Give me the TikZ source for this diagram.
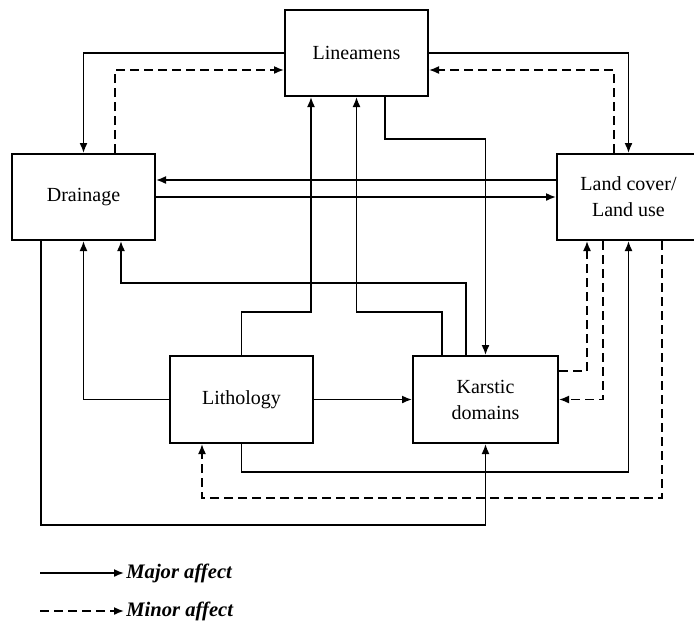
\documentclass[tikz,border=0pt]{standalone}
\usepackage{fontspec}
\setmainfont{Liberation Serif}
\usetikzlibrary{arrows.meta,positioning}
\tikzset{
     factor/.style={draw, line width=1pt, minimum width=71.5pt, minimum height=43pt,
        inner sep=0pt, align=center, font=\fontsize{10}{13}\selectfont},
      major/.style   = {black, ->, >={Latex[length=5pt,width=4pt]}, line width=0.8pt},
      minor/.style = {major, dash pattern=on 4.5pt off 2.5pt},
      legend/.style = {font=\fontsize{10.3}{12}\selectfont\bfseries\itshape, anchor=west, inner sep=1pt},
    }

\begin{document}
\begin{tikzpicture}[x=0.5pt,y=-0.5pt,node distance=3cm,on grid]
        \useasboundingbox (0,0) rectangle (694,623);
        \node [factor] (drain) at (83.5,197) {Drainage};
        \node [factor] (land) [right=272.5pt of drain] {Land cover/\\Land use};
        \node [factor] (lin) [above right=72pt and 136.5pt of drain] {Lineamens};
        \node [factor, minimum height=43.5pt] (litho) [below right=101.25pt and 79pt of drain] {Lithology};
        \node [factor, minimum width=72.5pt, minimum height=43.5pt] (karst) [right=122pt of litho] {Karstic\\domains};

        \draw [major] (lin.west) -| (drain.north);
        \draw [minor] ([xshift=15.75pt]drain.north) |- ([yshift=-8.5pt]lin.west);
        \draw [major] (lin.east) -| (land.north);
        \draw [minor] ([xshift=-7.25pt]land.north) |- ([yshift=-8.5pt]lin.east);
        \draw [major] ([yshift=8.5pt]land.west) -- ([yshift=8.5pt]drain.east);
        \draw [major] (drain.east) -- (land.west);
        \draw [major] (litho.north) -- ++(0,-43) -| ([xshift=-22.75pt]lin.south);
        \draw [major] ([xshift=-21.75pt]karst.north) -- ++(0,-43) -| (lin.south);
        \draw [major] ([xshift=14.25pt]lin.south) -- ++(0,42) -| (karst.north);
        \draw [major] ([xshift=-9.75pt]karst.north) -- ++(0,-72) -| ([xshift=18.75pt]drain.south);
        \draw [major] (litho.west) -| (drain.south);
        \draw [major] (litho.east) -- (karst.west);
        \draw [minor] ([yshift=14.25pt]karst.east) -| ([xshift=-20.75pt]land.south);
        \draw [minor] ([xshift=-12.75pt]land.south) |- (karst.east);
        \draw [major] (litho.south) -- ++(0,28) -| (land.south);
        \draw [minor] ([xshift=16.75pt]land.south) -- ++(0,257) -| ([xshift=-19.75pt]litho.south);
        \draw [major] ([xshift=-21.25pt]drain.south) -- ++(0,284) -| (karst.south);

        \coordinate (majstart) at (40,573);
        \node [legend] (majtext) at (124,573) {Major affect};
        \draw [major] (majstart) -- (majtext.west);
        \coordinate (minstart) at (40,611);
        \node [legend] (mintext) at (124,611) {Minor affect};
        \draw [minor] (minstart) -- (mintext.west);
    \end{tikzpicture}
\end{document}
